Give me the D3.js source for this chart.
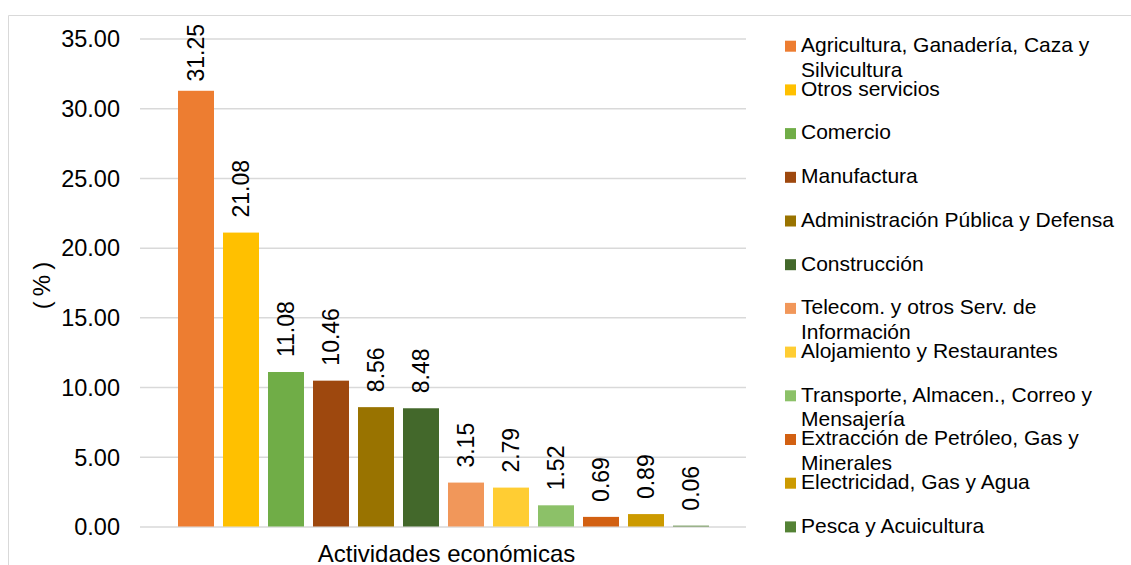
<!DOCTYPE html>
<html>
<head>
<meta charset="utf-8">
<script src="https://cdn.jsdelivr.net/npm/d3@7"></script>
<style>
  html, body { margin: 0; padding: 0; background: #fff; }
  svg { display: block; font-family: "Liberation Sans", Arial, sans-serif; }
</style>
</head>
<body>
<svg id="chart" width="1131" height="565"></svg>
<script>
const categories = [
  "Agricultura, Ganadería, Caza y Silvicultura",
  "Otros servicios",
  "Comercio",
  "Manufactura",
  "Administración Pública y Defensa",
  "Construcción",
  "Telecom. y otros Serv. de Información",
  "Alojamiento y Restaurantes",
  "Transporte, Almacen., Correo y Mensajería",
  "Extracción de Petróleo, Gas y Minerales",
  "Electricidad, Gas y Agua",
  "Pesca y Acuicultura"
];
const values = [31.25, 21.08, 11.08, 10.46, 8.56, 8.48, 3.15, 2.79, 1.52, 0.69, 0.89, 0.06];
const colors = ["#ED7D31", "#FFC000", "#70AD47", "#9E480E", "#997300", "#43682B",
                "#F1975A", "#FFCD33", "#8CC168", "#D26012", "#CC9A00", "#548235"];
const yTicks = [0, 5, 10, 15, 20, 25, 30, 35];
const xTitle = "Actividades económicas";
const yTitle = "(%)";

const svg = d3.select("#chart");

// chart frame
svg.append("path")
  .attr("d", "M8.5,565 L8.5,15.5 L1131,15.5")
  .attr("fill", "none").attr("stroke", "#D9D9D9").attr("stroke-width", 1);

const plotLeft = 140, plotRight = 746;
const y = d3.scaleLinear().domain([0, 35]).range([526.5, 38.5]);
const x = d3.scaleBand().domain(categories)
  .range([plotLeft + 33.5, plotRight - 32.5]).paddingInner(0.2).paddingOuter(0.1);

// gridlines + tick labels via axis
const yAxis = d3.axisLeft(y).tickValues(yTicks).tickFormat(d3.format(".2f"))
  .tickSize(-(plotRight - plotLeft)).tickPadding(20);
const gy = svg.append("g").attr("transform", `translate(${plotLeft},0)`).call(yAxis);
gy.select(".domain").remove();
gy.selectAll(".tick line").attr("stroke", "#D9D9D9").attr("stroke-width", 1.5);
gy.selectAll(".tick text").attr("fill", "#000").style("font-size", "23.5px")
  .attr("font-family", null).attr("dy", "0.35em");

// bars
svg.append("g").selectAll("rect").data(values).join("rect")
  .attr("x", (d, i) => x(categories[i]))
  .attr("width", x.bandwidth())
  .attr("y", d => y(d))
  .attr("height", d => y(0) - y(d))
  .attr("fill", (d, i) => colors[i]);

// data labels
const lbl = svg.append("g").selectAll("text").data(values).join("text")
  .text(d => d3.format(".2f")(d))
  .style("font-size", "23px")
  .attr("fill", "#000")
  .attr("dy", "0.36em");
lbl.each(function(d, i) {
  const len = this.getComputedTextLength();
  const cx = x(categories[i]) + x.bandwidth() / 2;
  const yy = Math.max(y(d) - 15, 24 + len);
  d3.select(this).attr("transform", `translate(${cx},${yy}) rotate(-90)`);
});

// axis titles
svg.append("text").text(xTitle)
  .attr("x", 446.5).attr("y", 561.5).attr("text-anchor", "middle")
  .style("font-size", "24px").attr("fill", "#000");
svg.append("text").text(yTitle)
  .attr("transform", "translate(49.5,283) rotate(-90)")
  .attr("text-anchor", "middle")
  .style("font-size", "24px").style("letter-spacing", "5px").attr("fill", "#000");

// legend
const legend = svg.append("g");
const lgX = 785, lgTextX = 801, lgBase0 = 52, lgStep = 43.7, lgLine = 24.5, lgMax = 325;
categories.forEach((c, i) => {
  const base = lgBase0 + i * lgStep;
  legend.append("rect").attr("x", lgX).attr("y", base - 11.3)
    .attr("width", 11).attr("height", 11).attr("fill", colors[i]);
  const t = legend.append("text").attr("x", lgTextX).attr("y", base)
    .style("font-size", "21px").attr("fill", "#000");
  const words = c.split(" ");
  let line = [], lineNo = 0;
  let ts = t.append("tspan").attr("x", lgTextX).attr("y", base);
  words.forEach(w => {
    line.push(w);
    ts.text(line.join(" "));
    if (ts.node().getComputedTextLength() > lgMax && line.length > 1) {
      line.pop();
      ts.text(line.join(" "));
      line = [w];
      lineNo++;
      ts = t.append("tspan").attr("x", lgTextX).attr("y", base + lineNo * lgLine).text(w);
    }
  });
});
</script>
</body>
</html>
